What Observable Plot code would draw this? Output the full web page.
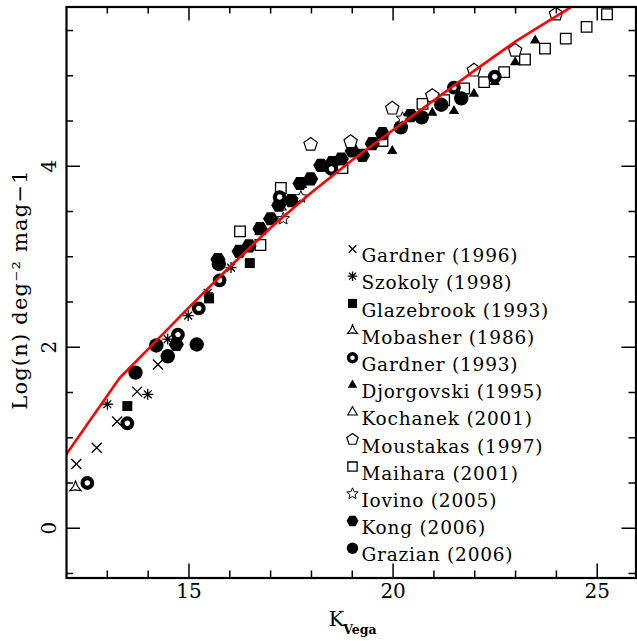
<!DOCTYPE html>
<html>
<head>
<meta charset="utf-8">
<script src="https://cdn.jsdelivr.net/npm/d3@7"></script>
<script src="https://cdn.jsdelivr.net/npm/@observablehq/plot@0.6"></script>
<style>
  body { margin: 0; background: #fff; }
  #chart svg { display: block; }
</style>
</head>
<body>
<div id="chart"></div>
<script>
// K-band galaxy number counts: [K_Vega, log10 N (deg^-2 mag^-1)]
const gardner1996 = [[12.24, 0.71], [12.74, 0.89], [13.24, 1.18], [13.73, 1.51], [14.24, 1.81]];
const szokoly1998 = [[13.0, 1.37], [13.99, 1.48], [14.48, 2.09], [14.98, 2.35], [15.46, 2.60], [16.03, 2.88]];
const glazebrook1993 = [[13.49, 1.35], [15.49, 2.54], [16.49, 2.93]];
const mobasher1986 = [[12.22, 0.45]];
const gardner1993 = [[12.51, 0.50], [13.49, 1.16], [14.73, 2.14], [15.24, 2.43], [15.75, 2.74],
  [17.22, 3.66], [18.49, 3.97], [21.49, 4.87], [22.49, 4.99]];
const djorgovski1995 = [[19.98, 4.17], [20.96, 4.59], [21.49, 4.61], [21.98, 4.80], [22.49, 4.93],
  [22.99, 5.15], [23.48, 5.39]];
const kochanek2001 = [[16.75, 3.28], [17.25, 3.55], [17.75, 3.80], [18.25, 3.99]];
const moustakas1997 = [[17.98, 4.24], [18.96, 4.27], [19.98, 4.64], [20.96, 4.78], [21.98, 5.06],
  [22.99, 5.28], [23.99, 5.68]];
const maihara2001 = [[16.25, 3.28], [16.75, 3.13], [17.25, 3.76], [18.76, 3.98], [19.74, 4.28],
  [20.72, 4.69], [21.25, 4.73], [21.74, 4.86], [22.23, 4.93], [22.72, 5.04], [23.23, 5.18],
  [23.72, 5.30], [24.23, 5.41], [24.74, 5.54], [25.24, 5.68]];
const iovino2005 = [[17.31, 3.42], [17.74, 3.66], [20.23, 4.53]];
const kong2006 = [[14.69, 2.03], [15.71, 2.97], [16.23, 3.06], [16.47, 3.12], [16.74, 3.31],
  [17.0, 3.42], [17.2, 3.57], [17.51, 3.62], [17.72, 3.81], [17.98, 3.86], [18.23, 4.01],
  [18.51, 4.04], [18.73, 4.08], [19.0, 4.17], [19.25, 4.12], [19.49, 4.25], [19.74, 4.36], [20.43, 4.56]];
const grazian2006 = [[13.69, 1.72], [14.20, 2.02], [14.48, 1.90], [15.19, 2.03], [15.73, 2.92],
  [20.19, 4.43], [20.70, 4.54], [21.18, 4.68], [21.67, 4.75]];

// model prediction (red curve)
const modelK = [12.0, 13.3, 14.0, 15.0, 16.0, 17.0, 18.0, 19.0, 20.0, 21.0, 22.0, 23.0, 24.0, 24.4];
const modelLogN = [0.82, 1.66, 1.98, 2.44, 2.89, 3.32, 3.71, 4.07, 4.40, 4.73, 5.06, 5.38, 5.66, 5.77];

// axis ticks
const xMajorTicks = [15, 20, 25];
const xMinorTicks = [13, 14, 16, 17, 18, 19, 21, 22, 23, 24];
const yMajorTicks = [0, 2, 4];
const yMinorTicks = [-0.5, 0.5, 1, 1.5, 2.5, 3, 3.5, 4.5, 5, 5.5];

const xTitle = "K";
const xTitleSub = "Vega";
const yTitle = "Log(n) deg\u207B\u00B2 mag\u22121";

// layout
const W = 637, H = 641, ML = 66, MR = 1.5, MT = 6.5, MB = 63.5;
const FW = W - ML - MR, FH = H - MT - MB;
const FONT = "DejaVu Serif";

// marker shapes; r is the radius handed to Plot.dot
const shape = (fn) => ({ draw(ctx, size) { fn(ctx, Math.sqrt(size / Math.PI)); } });
const polygon = (pts, ctx) => { ctx.moveTo(pts[0][0], pts[0][1]); for (const p of pts.slice(1)) ctx.lineTo(p[0], p[1]); ctx.closePath(); };
const ngon = (n, r, start = -Math.PI / 2) => d3.range(n).map(i => [r * Math.cos(start + 2 * Math.PI * i / n), r * Math.sin(start + 2 * Math.PI * i / n)]);
const starPts = (n, ro, ri) => d3.range(2 * n).map(i => {
  const a = -Math.PI / 2 + Math.PI * i / n, rr = i % 2 ? ri : ro;
  return [rr * Math.cos(a), rr * Math.sin(a)];
});
const times = shape((c, r) => { c.moveTo(-r, -r); c.lineTo(r, r); c.moveTo(-r, r); c.lineTo(r, -r); });
const asterisk = shape((c, r) => {
  for (let i = 0; i < 4; i++) { const a = Math.PI * i / 4; c.moveTo(r * Math.cos(a), r * Math.sin(a)); c.lineTo(-r * Math.cos(a), -r * Math.sin(a)); }
});
const square = shape((c, r) => { c.rect(-r, -r, 2 * r, 2 * r); });
const triangle = shape((c, r) => polygon(ngon(3, r), c));
const pentagon = shape((c, r) => polygon(ngon(5, r), c));
const hexagon = shape((c, r) => polygon(ngon(6, r, 0), c));
const star = shape((c, r) => polygon(starPts(5, r, r * 0.45), c));
const tristar = shape((c, r) => polygon(starPts(3, r, r * 0.38), c));
const disc = shape((c, r) => { c.moveTo(r, 0); c.arc(0, 0, r, 0, 2 * Math.PI); });

const series = [
  { label: "Gardner (1996)", data: gardner1996, symbol: times, r: 5, lr: 3.8, fill: "none", stroke: "black", sw: 1.3 },
  { label: "Szokoly (1998)", data: szokoly1998, symbol: asterisk, r: 5.5, lr: 4.8, fill: "none", stroke: "black", sw: 1.3 },
  { label: "Glazebrook (1993)", data: glazebrook1993, symbol: square, r: 5, lr: 4.5, fill: "black", stroke: "none", sw: 0 },
  { label: "Mobasher (1986)", data: mobasher1986, symbol: tristar, r: 6.5, lr: 5.8, fill: "white", stroke: "black", sw: 1.2 },
  { label: "Gardner (1993)", data: gardner1993, symbol: disc, r: 4.8, lr: 4, fill: "white", stroke: "black", sw: 4.2, lsw: 3.4 },
  { label: "Djorgovski (1995)", data: djorgovski1995, symbol: triangle, r: 6, lr: 5.5, fill: "black", stroke: "none", sw: 0 },
  { label: "Kochanek (2001)", data: kochanek2001, symbol: triangle, r: 6, lr: 5.5, fill: "none", stroke: "black", sw: 1.1 },
  { label: "Moustakas (1997)", data: moustakas1997, symbol: pentagon, r: 7, lr: 6, fill: "white", stroke: "black", sw: 1.2 },
  { label: "Maihara (2001)", data: maihara2001, symbol: square, r: 5.3, lr: 4.6, fill: "none", stroke: "black", sw: 1.3 },
  { label: "Iovino (2005)", data: iovino2005, symbol: star, r: 6.5, lr: 6, fill: "white", stroke: "black", sw: 1 },
  { label: "Kong (2006)", data: kong2006, symbol: hexagon, r: 7.6, lr: 6, fill: "black", stroke: "none", sw: 0 },
  { label: "Grazian (2006)", data: grazian2006, symbol: disc, r: 7.2, lr: 5.7, fill: "black", stroke: "none", sw: 0 }
];

// filled markers first so the open ones stay visible on top
const drawOrder = ["Kochanek (2001)", "Kong (2006)", "Grazian (2006)", "Maihara (2001)", "Gardner (1996)",
  "Szokoly (1998)", "Glazebrook (1993)", "Mobasher (1986)", "Djorgovski (1995)", "Moustakas (1997)",
  "Iovino (2005)", "Gardner (1993)"];

const dotMark = (s) => Plot.dot(s.data, {
  x: d => d[0], y: d => d[1], symbol: s.symbol, r: s.r,
  fill: s.fill, stroke: s.stroke, strokeWidth: s.sw
});

const legendRowY = (i) => 242 + 27.2 * i;
const legendMarks = series.flatMap((s, i) => [
  Plot.dot([s.label], {
    frameAnchor: "top-left", dx: 286, dy: legendRowY(i), symbol: s.symbol, r: s.lr,
    fill: s.fill, stroke: s.stroke, strokeWidth: s.lsw ?? s.sw
  }),
  Plot.text([s.label], {
    frameAnchor: "top-left", dx: 295, dy: legendRowY(i), text: d => d,
    textAnchor: "start", fontSize: 18.5
  })
]);

const chart = Plot.plot({
  width: W, height: H,
  marginLeft: ML, marginRight: MR, marginTop: MT, marginBottom: MB,
  style: { fontFamily: FONT, background: "white", color: "black", overflow: "visible" },
  x: { domain: [12, 25.95], axis: null },
  y: { domain: [-0.55, 5.76], axis: null },
  marks: [
    ...drawOrder.map(name => dotMark(series.find(s => s.label === name))),
    Plot.line(modelK.map((k, i) => [k, modelLogN[i]]), {
      x: d => d[0], y: d => d[1], stroke: "#ff0000", strokeWidth: 2.6, clip: true
    }),
    ...legendMarks,
    // inward ticks on all four sides
    Plot.tickX(xMinorTicks, { x: d => d, insetTop: FH - 7, strokeWidth: 1.5 }),
    Plot.tickX(xMajorTicks, { x: d => d, insetTop: FH - 14, strokeWidth: 1.5 }),
    Plot.tickX(xMinorTicks, { x: d => d, insetBottom: FH - 7, strokeWidth: 1.5 }),
    Plot.tickX(xMajorTicks, { x: d => d, insetBottom: FH - 14, strokeWidth: 1.5 }),
    Plot.tickY(yMinorTicks, { y: d => d, insetRight: FW - 7, strokeWidth: 1.5 }),
    Plot.tickY(yMajorTicks, { y: d => d, insetRight: FW - 14, strokeWidth: 1.5 }),
    Plot.tickY(yMinorTicks, { y: d => d, insetLeft: FW - 7, strokeWidth: 1.5 }),
    Plot.tickY(yMajorTicks, { y: d => d, insetLeft: FW - 14, strokeWidth: 1.5 }),
    Plot.frame({ stroke: "black", strokeWidth: 2.2 }),
    // tick labels
    Plot.text(xMajorTicks, { x: d => d, text: d => String(d), frameAnchor: "bottom", dy: 20, fontSize: 20 }),
    Plot.text(yMajorTicks, { y: d => d, text: d => String(d), frameAnchor: "left", textAnchor: "middle", dx: -17, rotate: -90, fontSize: 20 }),
    // axis titles
    Plot.text([yTitle], { frameAnchor: "left", textAnchor: "middle", dx: -46, dy: -3, rotate: -90, text: d => d, fontSize: 21 }),
    Plot.text([xTitle], { frameAnchor: "bottom", dx: -15, dy: 48, text: d => d, fontSize: 21 }),
    Plot.text([xTitleSub], { frameAnchor: "bottom", dx: -8, dy: 56, text: d => d, fontSize: 12.5, fontWeight: "bold", textAnchor: "start" })
  ]
});

// slightly wider tracking for the legend entries and the y title
const legendLabels = new Set(series.map(s => s.label));
d3.select(chart).selectAll("text")
  .filter(function () { return legendLabels.has(this.textContent); })
  .style("letter-spacing", "0.8px");
d3.select(chart).selectAll("text")
  .filter(function () { return this.textContent === yTitle; })
  .style("letter-spacing", "1.2px");
document.getElementById("chart").appendChild(chart);
</script>
</body>
</html>
